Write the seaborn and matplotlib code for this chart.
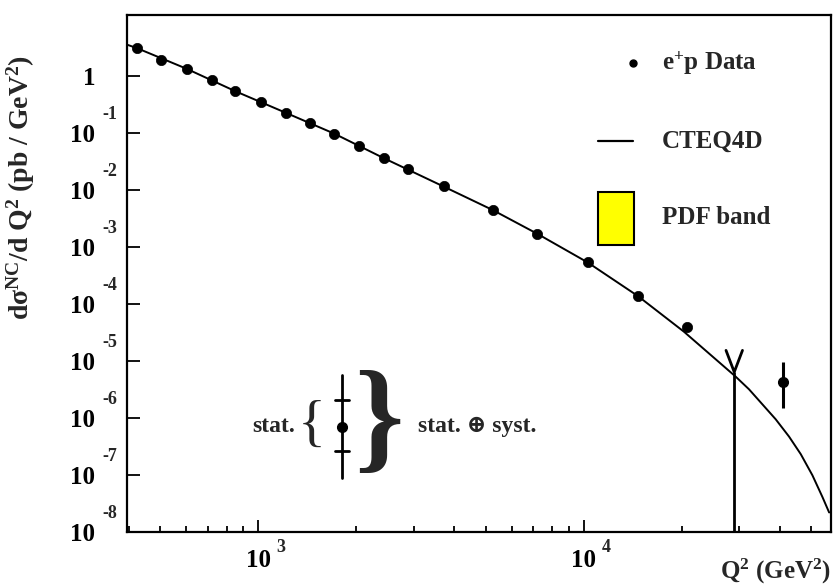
import numpy as np
import pandas as pd
import matplotlib
matplotlib.use("Agg")
import matplotlib.pyplot as plt
from matplotlib.patches import Rectangle
from matplotlib.ticker import FixedLocator, FixedFormatter, NullFormatter
import seaborn as sns

# ---------------- data ----------------
data_q2 = [425, 504, 602, 720, 851, 1019, 1213, 1438, 1713, 2041, 2425, 2880,
           3717, 5248, 7203, 10310, 14690, 20700]
data_xsec = [3.06, 1.91, 1.34, 0.84, 0.539, 0.350, 0.227, 0.148, 0.0972, 0.0599,
             0.0364, 0.0233, 0.0116, 0.00446, 0.00168, 5.4e-4, 1.38e-4, 4.0e-5]

# highest-Q2 point with visible error bar
hi_q2 = 40950
hi_xsec = 4.3e-6
hi_err_up = 9.7e-6
hi_err_dn = 1.5e-6

# bin with no events: upper-limit marker
ul_q2 = 29000
ul_xsec = 6.4e-6

# CTEQ4D prediction
curve_q2 = [390, 425, 602, 851, 1213, 1713, 2425, 3709, 5248, 7219, 10288,
            14665, 20310, 24240, 29300, 32190, 35380, 38880, 42730, 46430,
            50410, 54100, 56750]
curve_xsec = [3.64, 3.06, 1.34, 0.539, 0.227, 0.0972, 0.0364, 0.01151, 0.00446,
              0.00169, 5.35e-4, 1.38e-4, 3.27e-5, 1.36e-5, 5.31e-6, 3.19e-6,
              1.74e-6, 9.5e-7, 4.72e-7, 2.32e-7, 9.9e-8, 4.13e-8, 2.2e-8]

x_major = [1e3, 1e4]
x_exps = ["3", "4"]
y_major = [1e-8, 1e-7, 1e-6, 1e-5, 1e-4, 1e-3, 1e-2, 1e-1, 1]
y_labels = ["10", "10", "10", "10", "10", "10", "10", "10", "1"]
y_exps = ["-8", "-7", "-6", "-5", "-4", "-3", "-2", "-1", ""]

legend_labels = ["e$^{+}$p Data", "CTEQ4D", "PDF band"]

# ---------------- style ----------------
sns.set_style("ticks")
plt.rcParams["font.family"] = ["Liberation Serif", "DejaVu Serif"]
plt.rcParams["font.weight"] = "bold"
plt.rcParams["mathtext.fontset"] = "custom"
plt.rcParams["mathtext.rm"] = "Liberation Serif:bold"
plt.rcParams["mathtext.it"] = "Liberation Serif:bold"
plt.rcParams["mathtext.bf"] = "Liberation Serif:bold"
plt.rcParams["axes.linewidth"] = 1.5

fig = plt.figure(figsize=(8.35, 5.85), dpi=100)
ax = fig.add_axes([127 / 835, 53 / 585, 704 / 835, 517 / 585])
ax.set_xscale("log")
ax.set_yscale("log")

curve_df = pd.DataFrame({"q2": curve_q2, "xsec": curve_xsec})
data_df = pd.DataFrame({"q2": data_q2, "xsec": data_xsec})

sns.lineplot(data=curve_df, x="q2", y="xsec", ax=ax, color="black", lw=1.4,
             sort=False, estimator=None)
sns.scatterplot(data=data_df, x="q2", y="xsec", ax=ax, color="black", s=55,
                edgecolor="black", linewidth=0.5, zorder=3)

ax.errorbar([hi_q2], [hi_xsec],
            yerr=[[hi_xsec - hi_err_dn], [hi_err_up - hi_xsec]],
            fmt="o", color="black", ms=7, elinewidth=2.2, capsize=0, zorder=3)

ax.set_xlim(395, 57500)
ax.set_ylim(1e-8, 10 ** 1.07)

# upper-limit "Y" marker
ax.vlines(ul_q2, ax.get_ylim()[0], ul_xsec, color="black", lw=2.0)
ax.plot([ul_q2 / 1.06, ul_q2, ul_q2 * 1.06],
        [ul_xsec * 2.4, ul_xsec, ul_xsec * 2.4], color="black", lw=2.0)

# ---------------- axes ----------------
for s in ["top", "right", "left", "bottom"]:
    ax.spines[s].set_linewidth(1.6)
    ax.spines[s].set_color("black")

ax.xaxis.set_major_locator(FixedLocator(x_major))
ax.xaxis.set_major_formatter(FixedFormatter(["10"] * len(x_major)))
ax.xaxis.set_minor_formatter(NullFormatter())
ax.yaxis.set_major_locator(FixedLocator(y_major))
ax.yaxis.set_major_formatter(FixedFormatter(y_labels))
ax.yaxis.set_minor_formatter(NullFormatter())

ax.tick_params(which="both", direction="in", top=False, right=False,
               colors="black", width=1.3)
ax.tick_params(which="major", length=9, labelsize=18)
ax.tick_params(which="minor", length=4.5)
ax.tick_params(axis="y", which="major", pad=23)
ax.tick_params(axis="x", which="major", pad=12)
for lab in ax.get_xticklabels() + ax.get_yticklabels():
    lab.set_fontweight("bold")

for xv, e in zip(x_major, x_exps):
    ax.annotate(e, xy=(xv, 0), xycoords=("data", "axes fraction"),
                xytext=(16, -11), textcoords="offset points",
                ha="center", va="center", fontsize=13, fontweight="bold")
for yv, e in zip(y_major, y_exps):
    if e:
        ax.annotate(e, xy=(0, yv), xycoords=("axes fraction", "data"),
                    xytext=(-17.5, 13.5), textcoords="offset points",
                    ha="left", va="center", fontsize=13, fontweight="bold")

ax.set_ylabel("d\u03c3$^{\\mathrm{NC}}$/d Q$^{\\mathrm{2}}$ (pb / GeV$^{\\mathrm{2}}$)",
              fontsize=20, fontweight="bold")
ax.yaxis.set_label_coords(-0.128, 0.667)
ax.set_xlabel("Q$^{\\mathrm{2}}$ (GeV$^{\\mathrm{2}}$)", fontsize=18,
              fontweight="bold", ha="right", va="center")
ax.xaxis.set_label_coords(1.0, -0.077)

# ---------------- legend (drawn in axes coordinates) ----------------
T = ax.transAxes
ax.plot([0.719], [0.907], "o", color="black", ms=5, transform=T)
ax.plot([0.669, 0.719], [0.756, 0.756], color="black", lw=1.6, transform=T)
ax.add_patch(Rectangle((0.669, 0.555), 0.051, 0.1025, facecolor="#ffff00",
                       edgecolor="black", lw=1.5, transform=T))
for yy, lab in zip([0.907, 0.756, 0.609], legend_labels):
    ax.text(0.760, yy, lab, transform=T, fontsize=18, fontweight="bold",
            ha="left", va="center")

# ---------------- stat / syst illustration ----------------
ax.text(0.238, 0.205, "stat.", transform=T, fontsize=17, fontweight="bold",
        ha="right", va="center")
ax.text(0.262, 0.203, "{", transform=T, fontsize=42, fontweight="normal",
        ha="center", va="center")
ax.plot([0.305, 0.305], [0.104, 0.304], color="black", lw=2.0, transform=T)
ax.plot([0.295, 0.315], [0.255, 0.255], color="black", lw=2.0, transform=T)
ax.plot([0.295, 0.315], [0.157, 0.157], color="black", lw=2.0, transform=T)
ax.plot([0.305], [0.203], "o", color="black", ms=7, transform=T)
ax.text(0.358, 0.203, "}", transform=T, fontsize=90, fontweight="bold",
        ha="center", va="center")
ax.text(0.413, 0.205, "stat. \u2295 syst.", transform=T, fontsize=17,
        fontweight="bold", ha="left", va="center")

fig.savefig("out.png", dpi=100, facecolor="white")
